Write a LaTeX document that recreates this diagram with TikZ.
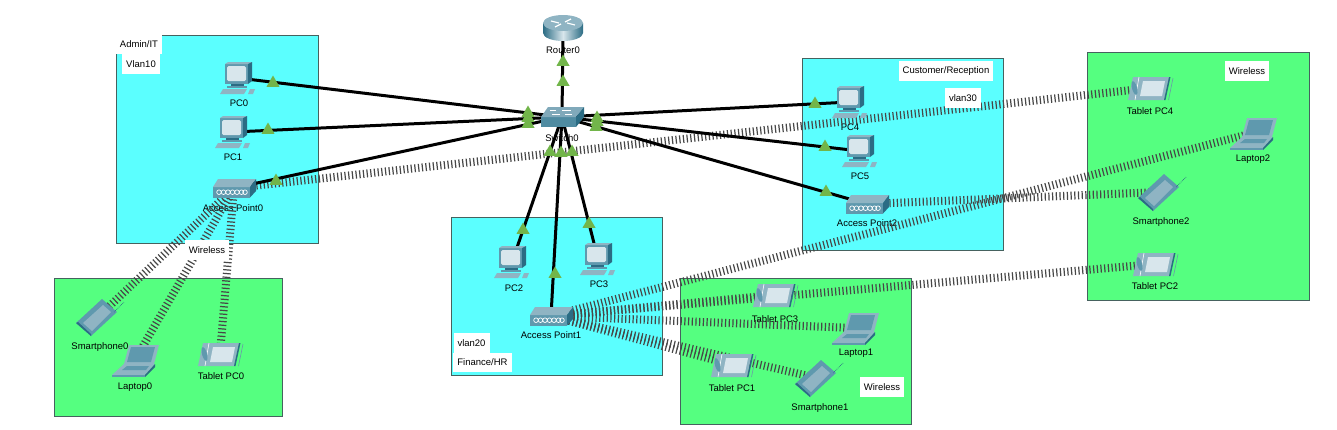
\documentclass[tikz,border=0pt]{standalone}
\usepackage{fontspec}
\setmainfont{Liberation Sans}
\usetikzlibrary{shapes.geometric}
\definecolor{vlancyan}{HTML}{5BFFFF}
\definecolor{wifigreen}{HTML}{55FF80}
\definecolor{zoneline}{HTML}{46625F}
\definecolor{devfront}{HTML}{5F99AE}
\definecolor{devtop}{HTML}{8FB4C3}
\definecolor{devdark}{HTML}{2B6C84}
\definecolor{devscreen}{HTML}{D8E6EC}
\definecolor{linkgreen}{HTML}{72B54A}
\tikzset{
	vlanzone/.style={draw=zoneline, fill=vlancyan, line width=1pt},
	wifizone/.style={draw=zoneline, fill=wifigreen, line width=1pt},
	note/.style={fill=white, inner xsep=4pt, inner ysep=0pt, minimum height=19.5pt, font=\fontsize{9.5}{10}\selectfont},
	devlabel/.style={inner sep=0pt, yshift=-0.7pt, font=\fontsize{9.5}{10}\selectfont},
	spot/.style={inner sep=0pt, minimum size=0pt},
	cable/.style={line width=3pt, black},
	radio/.style={line width=8pt, black!72, dash pattern=on 1.2pt off 2.5pt},
	linktri/.style={regular polygon, regular polygon sides=3, fill=linkgreen, inner sep=0pt, minimum size=15pt},
	pcicon/.pic={
		\fill[devfront] (-13,-14) -- (10,-14) -- (10,6) -- (-13,6) -- cycle;
		\fill[devtop] (-13,-14) -- (-10,-16) -- (14,-16) -- (10,-14) -- cycle;
		\fill[devdark] (10,-14) -- (14,-16) -- (14,3) -- (10,6) -- cycle;
		\fill[devscreen, rounded corners=1.5pt] (-11,-12) rectangle (8,3);
		\fill[devdark] (-7,6) rectangle (6,9);
		\fill[devfront] (-11,8) rectangle (9,10);
		\fill[devtop] (-15,11) -- (9,11) -- (6,16) -- (-18,16) -- cycle;
		\fill[devtop] (12,11) -- (17,11) -- (15,16) -- (10,16) -- cycle;
	},
	apicon/.pic={
		\fill[devfront] (-21,-1) rectangle (16,9.5);
		\fill[devtop] (-21,-1) -- (-16,-9) -- (22,-9) -- (16,-1) -- cycle;
		\fill[devdark] (16,-1) -- (22,-9) -- (22,3) -- (16,9.5) -- cycle;
		\foreach \cx in {-15,-10.5,-6,-1.5,3,7.5,11}
			\draw[white, line width=0.7pt] (\cx,4.2) circle (2.3);
	},
	switchicon/.pic={
		\fill[devfront!70!devdark] (-21,0) rectangle (14,10);
		\fill[devtop!85!devdark] (-21,0) -- (-14,-10) -- (22,-10) -- (14,0) -- cycle;
		\fill[devdark] (14,0) -- (22,-10) -- (22,0) -- (14,10) -- cycle;
		\draw[white, line width=0.8pt] (-10,-3) -- (-2,-3) (0,-7) -- (9,-7) (-6,-7) -- (-12,-7) (3,-3) -- (10,-3);
	},
	routericon/.pic={
		\shade[left color=devdark, right color=devdark, middle color=devscreen] (-20,-5) -- (-20,5) arc (180:0:20 and 8) -- (20,-5) -- cycle;
		\fill[devtop] (0,-5) ellipse (20 and 8);
		\draw[white, line width=1.2pt] (-12,-7) -- (-4,-5) (12,-3) -- (4,-5) (-8,-1) -- (-2,-4) (8,-9) -- (2,-6);
	},
	tableticon/.pic={
		\fill[devtop] (-17,-11) -- (19,-11) -- (14,12) -- (-22,12) -- cycle;
		\fill[devdark] (19,-11) -- (20.5,-11) -- (15.5,12) -- (14,12) -- cycle;
		\draw[devdark!70!white, line width=0.6pt] (23,-10) -- (18.5,12);
		\draw[white, line width=0.6pt] (-11,-11) -- (-15,12);
		\fill[devfront, rotate around={-75:(-15.5,0)}] (-15.5,0) ellipse (7 and 2.5);
		\fill[devscreen] (-7,-7) -- (15,-7) -- (12,8) -- (-10,8) -- cycle;
	},
	laptopicon/.pic={
		\fill[devtop] (-6,-15) -- (24,-15) -- (19,4) -- (-11,4) -- cycle;
		\fill[devfront] (-4,-13) -- (20,-13) -- (16,2) -- (-8,2) -- cycle;
		\fill[devtop] (-11,4) -- (20,4) -- (10,15) -- (-23,15) -- cycle;
		\fill[devfront] (-8,6) -- (14,6) -- (11,10) -- (-13,10) -- cycle;
		\fill[devfront] (-23,15) -- (10,15) -- (10,17) -- (-23,17) -- cycle;
		\fill[devdark] (20,4) -- (10,15) -- (10,17) -- (20,7) -- cycle;
	},
	phoneicon/.pic={
		\fill[devfront] (-22,6) -- (4,-18) -- (19,-5) -- (-7,19) -- cycle;
		\fill[devdark] (-22,6) -- (-7,19) -- (-7,17) -- (-20,5) -- cycle;
		\fill[devtop] (-15,6) -- (5,-12) -- (13,-5) -- (-6,14) -- cycle;
		\draw[devdark, line width=0.7pt, densely dotted] (16,-5) -- (26,-15);
	},
}

\begin{document}
\begin{tikzpicture}[x=1pt, y=-1pt]
	\useasboundingbox (0,0) rectangle (1337,429);
	
	% zones
	\draw[vlanzone] (116,35) rectangle (318,243);
	\draw[vlanzone] (451,217) rectangle (662,375);
	\draw[vlanzone] (802,58) rectangle (1003,250);
	\draw[wifizone] (54,278) rectangle (282,416);
	\draw[wifizone] (680,278) rectangle (911,424);
	\draw[wifizone] (1087,52) rectangle (1309,300);
	
	% device positions
	\node[spot] (router0) at (563,28) {};
	\node[spot] (switch0) at (562,117) {};
	\node[spot] (pc0) at (238,78) {};
	\node[spot] (pc1) at (233,132) {};
	\node[spot] (ap0) at (234,188) {};
	\node[spot] (pc2) at (512,262) {};
	\node[spot] (pc3) at (598,259) {};
	\node[spot] (ap1) at (551,316) {};
	\node[spot] (pc4) at (850,102) {};
	\node[spot] (pc5) at (860,151) {};
	\node[spot] (ap2) at (867,204) {};
	\node[spot] (phone0) at (98,317) {};
	\node[spot] (laptop0) at (135,360) {};
	\node[spot] (tablet0) at (220,354) {};
	\node[spot] (tablet3) at (775,295) {};
	\node[spot] (laptop1) at (855,328) {};
	\node[spot] (tablet1) at (733,365) {};
	\node[spot] (phone1) at (817,378) {};
	\node[spot] (tablet4) at (1150,88) {};
	\node[spot] (laptop2) at (1253,133) {};
	\node[spot] (phone2) at (1160,192) {};
	\node[spot] (tablet2) at (1155,264) {};
	
	% device names
	\node[devlabel] (router0name) at (563,50) {Router0};
	\node[devlabel] (switch0name) at (562,137) {Switch0};
	\node[devlabel] (pc0name) at (239,103) {PC0};
	\node[devlabel] (pc1name) at (233,157) {PC1};
	\node[devlabel] (ap0name) at (233,207) {Access Point0};
	\node[devlabel] (pc2name) at (514,288) {PC2};
	\node[devlabel] (pc3name) at (599,284) {PC3};
	\node[devlabel] (ap1name) at (551,334) {Access Point1};
	\node[devlabel] (pc4name) at (850,127) {PC4};
	\node[devlabel] (pc5name) at (860,176) {PC5};
	\node[devlabel] (ap2name) at (867,222) {Access Point2};
	\node[devlabel] (phone0name) at (100,346) {Smartphone0};
	\node[devlabel] (laptop0name) at (135,386) {Laptop0};
	\node[devlabel] (tablet0name) at (221,375) {Tablet PC0};
	\node[devlabel] (tablet3name) at (775,318) {Tablet PC3};
	\node[devlabel] (laptop1name) at (856,353) {Laptop1};
	\node[devlabel] (tablet1name) at (732,387) {Tablet PC1};
	\node[devlabel] (phone1name) at (820,407) {Smartphone1};
	\node[devlabel] (tablet4name) at (1150,110) {Tablet PC4};
	\node[devlabel] (laptop2name) at (1253,158) {Laptop2};
	\node[devlabel] (phone2name) at (1161,221) {Smartphone2};
	\node[devlabel] (tablet2name) at (1155,285) {Tablet PC2};
	
	% wireless links
	\draw[radio] (ap0) -- (phone0);
	\draw[radio] (ap0) -- (laptop0);
	\draw[radio] (ap0) -- (tablet0);
	\draw[radio] (ap0) -- (tablet4);
	\draw[radio] (ap1) -- (tablet3);
	\draw[radio] (ap1) -- (tablet2);
	\draw[radio] (ap1) -- (laptop1);
	\draw[radio] (ap1) -- (tablet1);
	\draw[radio] (ap1) -- (phone1);
	\draw[radio] (ap1) -- (laptop2);
	\draw[radio] (ap2) -- (phone2);
	
	% wired links
	\draw[cable] (switch0) -- (router0);
	\draw[cable] (switch0) -- (pc0);
	\draw[cable] (switch0) -- (pc1);
	\draw[cable] (switch0) -- (ap0);
	\draw[cable] (switch0) -- (pc2);
	\draw[cable] (switch0) -- (ap1);
	\draw[cable] (switch0) -- (pc3);
	\draw[cable] (switch0) -- (pc4);
	\draw[cable] (switch0) -- (pc5);
	\draw[cable] (switch0) -- (ap2);
	
	% zone notes
	\node[note] (adminnote) at (139,44) {Admin/IT};
	\node[note] (vlan10note) at (141,64) {Vlan10};
	\node[note] (wireless0note) at (207,250) {Wireless};
	\node[note] (vlan20note) at (471.5,343) {vlan20};
	\node[note] (financenote) at (482.5,362.5) {Finance/HR};
	\node[note] (customernote) at (946,71) {Customer/Reception};
	\node[note] (vlan30note) at (963,98) {vlan30};
	\node[note] (wireless1note) at (882,387) {Wireless};
	\node[note] (wireless2note) at (1247,71) {Wireless};
	
	% device icons
	\pic at (router0) {routericon};
	\pic at (switch0) {switchicon};
	\pic at (pc0) {pcicon};
	\pic at (pc1) {pcicon};
	\pic at (ap0) {apicon};
	\pic at (pc2) {pcicon};
	\pic at (pc3) {pcicon};
	\pic at (ap1) {apicon};
	\pic at (pc4) {pcicon};
	\pic at (pc5) {pcicon};
	\pic at (ap2) {apicon};
	\pic at (phone0) {phoneicon};
	\pic at (laptop0) {laptopicon};
	\pic at (tablet0) {tableticon};
	\pic at (tablet3) {tableticon};
	\pic at (laptop1) {laptopicon};
	\pic at (tablet1) {tableticon};
	\pic at (phone1) {phoneicon};
	\pic at (tablet4) {tableticon};
	\pic at (laptop2) {laptopicon};
	\pic at (phone2) {phoneicon};
	\pic at (tablet2) {tableticon};
	
	% link lights
	\node[linktri] (lightr0) at (563,62) {};
	\node[linktri] (lightr1) at (563,82) {};
	\node[linktri] (lightl0) at (528,113) {};
	\node[linktri] (lightl1) at (528,118) {};
	\node[linktri] (lightl2) at (528,124) {};
	\node[linktri] (lightm0) at (597,118) {};
	\node[linktri] (lightm1) at (597,122) {};
	\node[linktri] (lightm2) at (596,127) {};
	\node[linktri] (lightb0) at (550,152) {};
	\node[linktri] (lightb1) at (561,153) {};
	\node[linktri] (lightb2) at (572,152) {};
	\node[linktri] (lightpc0) at (273,83) {};
	\node[linktri] (lightpc1) at (268,130) {};
	\node[linktri] (lightap0) at (276,181) {};
	\node[linktri] (lightpc2) at (523,230) {};
	\node[linktri] (lightap1) at (555,274) {};
	\node[linktri] (lightpc3) at (589,224) {};
	\node[linktri] (lightpc4) at (815,104) {};
	\node[linktri] (lightpc5) at (825,147) {};
	\node[linktri] (lightap2) at (826,192) {};
\end{tikzpicture}
\end{document}
